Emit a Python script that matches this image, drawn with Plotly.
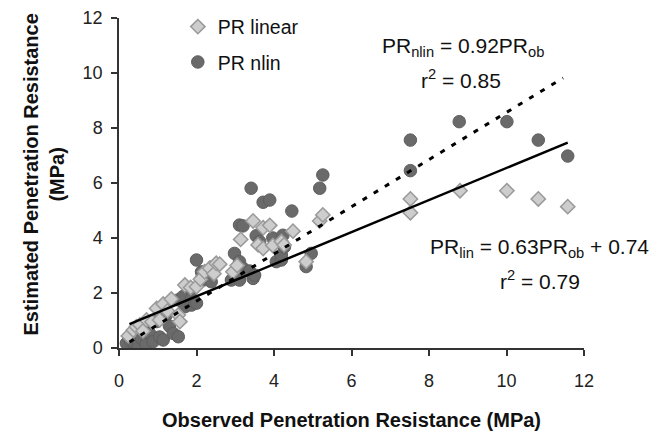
import plotly.graph_objects as go

# PR linear (diamonds)
lin_x = [0.24, 0.37, 0.45, 0.54, 0.62, 0.71, 0.85, 0.97, 1.05, 1.14, 1.25, 1.35, 1.53, 1.57,
         1.70, 1.85, 2.00, 2.10, 2.21, 2.34, 2.45, 2.51, 2.60, 2.94, 3.05, 3.14, 3.46, 3.59,
         3.72, 3.72, 3.89, 3.97, 4.19, 4.26, 4.49, 4.83, 5.18, 5.26, 7.52, 7.52, 8.80, 10.01,
         10.82, 11.58]
lin_y = [0.44, 0.65, 0.77, 0.84, 0.62, 1.02, 0.95, 1.44, 1.02, 1.60, 1.35, 1.78, 1.20, 0.96,
         2.29, 2.20, 2.23, 2.50, 2.77, 2.90, 2.70, 3.08, 3.05, 2.77, 3.00, 3.95, 4.62, 3.75,
         3.62, 4.37, 4.46, 3.73, 3.87, 3.75, 4.25, 3.14, 4.62, 4.84, 5.42, 4.92, 5.72, 5.72,
         5.42, 5.14]

# PR nlin (circles)
nlin_x = [0.19, 0.30, 0.37, 0.45, 0.50, 0.58, 0.70, 0.75, 0.79, 0.88, 0.97, 1.05, 1.14, 1.22,
          1.30, 1.40, 1.53, 1.53, 1.65, 1.70, 1.87, 1.87, 1.95, 2.00, 2.00, 2.13, 2.13, 2.17,
          2.38, 2.43, 2.90, 2.98, 3.11, 3.11, 3.11, 3.20, 3.20, 3.37, 3.41, 3.46, 3.50, 3.54,
          3.63, 3.72, 3.89, 3.97, 4.06, 4.19, 4.19, 4.23, 4.27, 4.46, 4.83, 4.96, 5.18, 5.26,
          7.52, 7.52, 8.78, 10.01, 10.82, 11.58]
nlin_y = [0.17, 0.25, 0.23, 0.59, 0.10, 0.35, 0.15, 0.77, 0.53, 0.23, 0.96, 0.40, 0.29, 1.20,
          0.80, 0.53, 0.41, 1.75, 1.87, 1.50, 1.81, 1.56, 1.68, 1.63, 3.20, 2.53, 2.77, 2.47,
          2.41, 2.96, 2.47, 3.44, 2.47, 3.14, 4.47, 2.90, 4.44, 2.80, 5.81, 2.53, 2.65, 4.08,
          3.87, 5.30, 5.38, 4.00, 3.14, 3.20, 3.38, 4.10, 3.68, 4.98, 2.96, 3.44, 5.81, 6.29,
          7.56, 6.45, 8.23, 8.23, 7.56, 6.98]

# Trend lines (end points as drawn)
lin_fit_x = [0.27, 11.58]
lin_fit_y = [0.87, 7.47]
nlin_fit_x = [0.27, 11.46]
nlin_fit_y = [0.22, 9.82]

ticks = [0, 2, 4, 6, 8, 10, 12]

FONT = "Arial, Liberation Sans, sans-serif"

fig = go.Figure()
fig.add_trace(go.Scatter(
    x=nlin_x, y=nlin_y, mode="markers", name="PR nlin",
    legendgroup="b", legendrank=2,
    marker=dict(symbol="circle", size=12.5, color="#6a6a6a",
                line=dict(color="#5e5e5e", width=1)),
))
fig.add_trace(go.Scatter(
    x=lin_x, y=lin_y, mode="markers", name="PR linear",
    legendgroup="a", legendrank=1,
    marker=dict(symbol="diamond", size=11, color="#cdcdcd",
                line=dict(color="#999999", width=1.5)),
))
fig.add_trace(go.Scatter(
    x=lin_fit_x, y=lin_fit_y, mode="lines", showlegend=False,
    line=dict(color="black", width=2.5),
))
fig.add_trace(go.Scatter(
    x=nlin_fit_x, y=nlin_fit_y, mode="lines", showlegend=False,
    line=dict(color="black", width=3, dash="5px,8px"),
))

axis_common = dict(
    range=[0, 12], tickvals=ticks, ticktext=[str(t) for t in ticks],
    showgrid=False, zeroline=False, showline=True, linecolor="#333333", linewidth=1.5,
    ticks="outside", ticklen=6, tickcolor="#333333", tickwidth=1.5,
    tickfont=dict(family=FONT, size=18, color="#222222"),
)

fig.update_layout(
    width=665, height=432,
    margin=dict(l=111, r=89, t=10, b=92, autoexpand=False),
    paper_bgcolor="white", plot_bgcolor="white",
    font=dict(family=FONT, color="#111111"),
    xaxis=dict(**axis_common, ticklabelstandoff=10,
               title=dict(text="<b>Observed Penetration Resistance (MPa)</b>",
                          font=dict(family=FONT, size=20, color="#111111"), standoff=23)),
    yaxis=dict(**axis_common, ticklabelstandoff=5),
    legend=dict(x=0.1265, y=1.032, xanchor="left", yanchor="top",
                traceorder="grouped", tracegroupgap=7,
                font=dict(family=FONT, size=19.5, color="#111111"),
                bgcolor="rgba(0,0,0,0)"),
    annotations=[
        dict(text="<b>Estimated Penetration Resistance<br>(MPa)</b>", textangle=-90,
             xref="paper", yref="paper", x=(43.5 - 119) / 465, y=(348 - 175) / 330,
             xanchor="center", yanchor="middle", showarrow=False,
             font=dict(family=FONT, size=20, color="#111111")),
        dict(text="PR<sub>nlin</sub> = 0.92PR<sub>ob</sub>",
             xref="paper", yref="paper", x=(463 - 119) / 465, y=(348 - 47) / 330,
             xanchor="center", yanchor="middle", showarrow=False,
             font=dict(family=FONT, size=21, color="#111111")),
        dict(text="r<sup>2</sup> = 0.85",
             xref="paper", yref="paper", x=(461 - 119) / 465, y=(348 - 79) / 330,
             xanchor="center", yanchor="middle", showarrow=False,
             font=dict(family=FONT, size=21, color="#111111")),
        dict(text="PR<sub>lin</sub> = 0.63PR<sub>ob</sub> + 0.74",
             xref="paper", yref="paper", x=(539 - 119) / 465, y=(348 - 248) / 330,
             xanchor="center", yanchor="middle", showarrow=False,
             font=dict(family=FONT, size=21, color="#111111")),
        dict(text="r<sup>2</sup> = 0.79",
             xref="paper", yref="paper", x=(540 - 119) / 465, y=(348 - 280) / 330,
             xanchor="center", yanchor="middle", showarrow=False,
             font=dict(family=FONT, size=21, color="#111111")),
    ],
)

fig.write_html("out.html")
